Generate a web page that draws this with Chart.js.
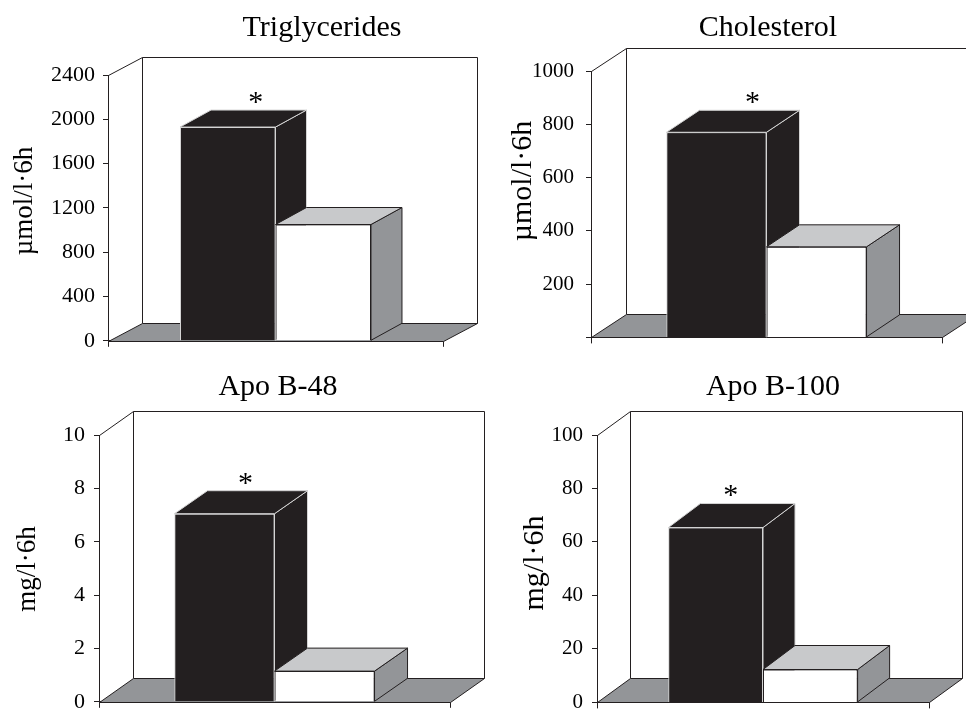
<!DOCTYPE html>
<html>
<head>
<meta charset="utf-8">
<script src="https://cdn.jsdelivr.net/npm/chart.js@4.4.1/dist/chart.umd.min.js"></script>
<style>
  html, body { margin: 0; padding: 0; background: #fff; overflow: hidden; }
  #wrap { position: relative; width: 966px; height: 724px; overflow: hidden; }
  canvas { position: absolute; }
</style>
</head>
<body>
<div id="wrap">
  <canvas id="c0" width="490" height="362" style="left:0;top:0"></canvas>
  <canvas id="c1" width="490" height="362" style="left:483px;top:0"></canvas>
  <canvas id="c2" width="490" height="362" style="left:0;top:362px"></canvas>
  <canvas id="c3" width="490" height="362" style="left:483px;top:362px"></canvas>
</div>
<script>
// values
const titles = ['Triglycerides', 'Cholesterol', 'Apo B-48', 'Apo B-100'];
const units = ['µmol/l·6h', 'µmol/l·6h', 'mg/l·6h', 'mg/l·6h'];
const categories = [''];
const seriesNames = ['Series 1', 'Series 2'];
const blackValues = [1930, 770, 7.05, 65.4];
const whiteValues = [1050, 340, 1.15, 12.3];
const yMax = [2400, 1000, 10, 100];
const yStep = [400, 200, 2, 20];
const starred = [true, true, true, true];

const DARK = '#231f20';
const GREY = '#939598';
const LIGHT = '#c8c9cb';
const EDGE = '#d4d4d4';
const FONT = "'Liberation Serif', 'Times New Roman', serif";
const H = 362;

// layout of each panel (local canvas px)
const PANELS = [
  { area: [108, 443, 75, 341], wall: [34, 18], bar: [31, 17], titleX: 322, titleY: 28, unitX: 25, unitY: 201, unitSize: 27, tickSize: 22, tickPad: 8,  starDx: 28, hideZero: false },
  { area: [108, 459, 71, 342], wall: [35, 23], bar: [33, 22], titleX: 285, titleY: 28, unitX: 40, unitY: 181, unitSize: 30, tickSize: 21, tickPad: 12, starDx: 36, hideZero: true },
  { area: [99, 450, 73, 353],  wall: [34, 24], bar: [33, 23], titleX: 278, titleY: 25, unitX: 28, unitY: 207, unitSize: 27, tickSize: 22, tickPad: 9,  starDx: 21, hideZero: false },
  { area: [114, 446, 73, 351], wall: [33, 24], bar: [32, 24], titleX: 290, titleY: 25, unitX: 52, unitY: 201, unitSize: 30, tickSize: 21, tickPad: 9,  starDx: 15, hideZero: false },
];

// face colours per dataset: [side, top, edge]
const FACES = [
  [DARK, DARK, EDGE],
  [GREY, LIGHT, DARK],
];

function make3d(p, idx) {
  return {
    id: 'box3d' + idx,
    beforeDatasetsDraw(chart) {
      const { ctx, chartArea: a } = chart;
      const [dx, dy] = p.wall;
      const L = Math.round(a.left) + 0.5, R = Math.round(a.right) + 0.5;
      const T = Math.round(a.top) + 0.5, B = Math.round(a.bottom) + 0.5;
      ctx.save();
      ctx.lineWidth = 1;
      ctx.strokeStyle = DARK;
      // back wall
      ctx.fillStyle = '#fff';
      ctx.fillRect(L + dx, T - dy, R - L, B - T);
      ctx.beginPath();
      ctx.moveTo(L, T); ctx.lineTo(L + dx, T - dy);
      ctx.lineTo(R + dx, T - dy); ctx.lineTo(R + dx, B - dy);
      ctx.moveTo(L + dx, T - dy); ctx.lineTo(L + dx, B - dy);
      ctx.stroke();
      // floor
      ctx.beginPath();
      ctx.moveTo(L, B); ctx.lineTo(L + dx, B - dy);
      ctx.lineTo(R + dx, B - dy); ctx.lineTo(R, B);
      ctx.closePath();
      ctx.fillStyle = GREY;
      ctx.fill();
      ctx.stroke();
      ctx.restore();
    },
    afterDatasetsDraw(chart) {
      const { ctx } = chart;
      const [dx, dy] = p.bar;
      ctx.save();
      ctx.lineWidth = 1;
      chart.data.datasets.forEach((ds, i) => {
        const [side, top, edge] = FACES[i];
        chart.getDatasetMeta(i).data.forEach(el => {
          el.draw(ctx);
          const { x, y, base, width } = el.getProps(['x', 'y', 'base', 'width'], true);
          const l = x - width / 2, r = x + width / 2;
          ctx.strokeStyle = edge;
          // side face
          ctx.beginPath();
          ctx.moveTo(r, y); ctx.lineTo(r + dx, y - dy);
          ctx.lineTo(r + dx, base - dy); ctx.lineTo(r, base);
          ctx.closePath();
          ctx.fillStyle = side; ctx.fill(); ctx.stroke();
          // top face
          ctx.beginPath();
          ctx.moveTo(l, y); ctx.lineTo(l + dx, y - dy);
          ctx.lineTo(r + dx, y - dy); ctx.lineTo(r, y);
          ctx.closePath();
          ctx.fillStyle = top; ctx.fill(); ctx.stroke();
          if (i === 0 && starred[idx]) {
            ctx.fillStyle = '#000';
            ctx.font = '30px ' + FONT;
            ctx.textAlign = 'center';
            ctx.textBaseline = 'middle';
            ctx.fillText('*', x + p.starDx, y - dy - 7);
          }
        });
      });
      ctx.restore();
    },
    afterDraw(chart) {
      const { ctx } = chart;
      ctx.save();
      ctx.fillStyle = '#000';
      ctx.textAlign = 'center';
      ctx.textBaseline = 'middle';
      ctx.font = '30px ' + FONT;
      ctx.fillText(titles[idx], p.titleX, p.titleY);
      ctx.translate(p.unitX, p.unitY);
      ctx.rotate(-Math.PI / 2);
      ctx.font = p.unitSize + 'px ' + FONT;
      ctx.fillText(units[idx], 0, 0);
      ctx.restore();
    }
  };
}

PANELS.forEach((p, i) => {
  const canvas = document.getElementById('c' + i);
  new Chart(canvas, {
    type: 'bar',
    data: {
      labels: categories,
      datasets: [
        {
          label: seriesNames[0],
          data: [blackValues[i]],
          backgroundColor: DARK,
          borderColor: EDGE,
          borderWidth: 1,
        },
        {
          label: seriesNames[1],
          data: [whiteValues[i]],
          backgroundColor: '#ffffff',
          borderColor: DARK,
          borderWidth: 1,
        },
      ],
    },
    options: {
      responsive: false,
      animation: false,
      events: [],
      barPercentage: 1,
      categoryPercentage: 0.57,
      layout: { padding: { top: p.area[2], right: canvas.width - p.area[1], bottom: 0, left: 0 } },
      plugins: {
        legend: { display: false },
        tooltip: { enabled: false },
        title: { display: false },
      },
      scales: {
        x: {
          ticks: { display: false },
          grid: { drawOnChartArea: false, tickLength: 6, color: DARK, offset: true },
          border: { color: DARK, width: 1 },
          afterFit: s => { s.height = H - p.area[3]; },
        },
        y: {
          min: 0,
          max: yMax[i],
          ticks: {
            stepSize: yStep[i],
            color: '#000',
            padding: p.tickPad,
            font: { family: FONT, size: p.tickSize },
            callback: v => (p.hideZero && v === 0) ? '' : String(v),
          },
          grid: { drawOnChartArea: false, tickLength: 5, color: DARK },
          border: { color: DARK, width: 1 },
          afterFit: s => { s.width = p.area[0]; },
        },
      },
    },
    plugins: [make3d(p, i)],
  });
});
</script>
</body>
</html>
